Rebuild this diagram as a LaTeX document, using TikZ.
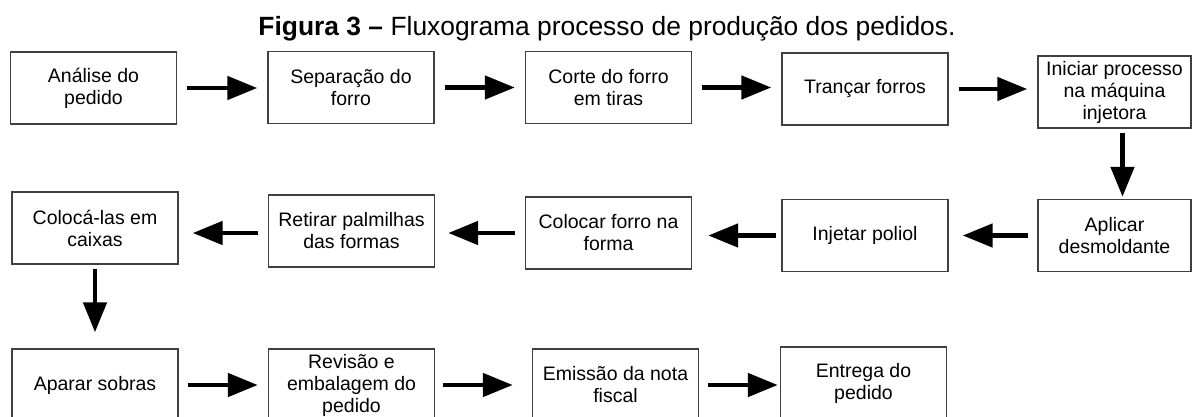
\documentclass[tikz,border=0pt]{standalone}
\usepackage{fontspec}
\setmainfont{Liberation Sans}
\usetikzlibrary{positioning, arrows.meta}

\begin{document}
\begin{tikzpicture}[x=1pt, y=1pt,
  caixa/.style={rectangle, draw=black!75, line width=1.4pt, minimum width=166pt, minimum height=72pt, inner sep=0pt, align=center, font=\fontsize{19.5}{22}\selectfont},
  seta/.style={line width=4.8pt, -{Triangle[length=30pt, width=23pt]}, shorten <=10pt, shorten >=10pt},
]
  \clip (0,0) rectangle (1194,416);
  \node[anchor=base, font=\fontsize{26.4}{30}\selectfont] (titulo) at (607,380) {\textbf{Figura 3 –} Fluxograma processo de produção dos pedidos.};

  % linha 1
  \node[caixa] (analise) at (93.5,328) {Análise do\\pedido};
  \node[caixa] (separacao) at (351,328.5) {Separação do\\forro};
  \node[caixa] (corte) at (608.5,328.5) {Corte do forro\\em tiras};
  \node[caixa] (trancar) at (865,327) {Trançar forros};
  \node[caixa, minimum width=153pt] (iniciar) at (1114.5,324) {Iniciar processo\\na máquina\\injetora};

  % linha 2
  \node[caixa, minimum width=153pt] (aplicar) at (1114.5,180.5) {Aplicar\\desmoldante};
  \node[caixa] (injetar) at (865,180.5) {Injetar poliol};
  \node[caixa] (colocar) at (608.5,183) {Colocar forro na\\forma};
  \node[caixa] (retirar) at (351.5,185) {Retirar palmilhas\\das formas};
  \node[caixa] (caixas) at (95,188) {Colocá-las em\\caixas};

  % linha 3
  \node[caixa] (aparar) at (95,31) {Aparar sobras};
  \node[caixa] (revisao) at (351.5,31) {Revisão e\\embalagem do\\pedido};
  \node[caixa] (nota) at (615.5,31) {Emissão da nota\\fiscal};
  \node[caixa] (entrega) at (863.5,33) {Entrega do\\pedido};

  \draw[seta] (analise.east) -- (analise.east -| separacao.west);
  \draw[seta] (separacao.east) -- (separacao.east -| corte.west);
  \draw[seta] (corte.east) -- (corte.east -| trancar.west);
  \draw[seta] (trancar.east) -- (trancar.east -| iniciar.west);
  \draw[seta, shorten <=4pt, shorten >=2pt] ([xshift=8pt]iniciar.south) -- ([xshift=8pt]aplicar.north);
  \draw[seta, shorten <=9pt, shorten >=14pt] (aplicar.west) -- (aplicar.west -| injetar.east);
  \draw[seta, shorten <=5pt, shorten >=16pt] (injetar.west) -- (injetar.west -| colocar.east);
  \draw[seta, shorten <=10pt, shorten >=13pt] (colocar.west) -- (colocar.west -| retirar.east);
  \draw[seta, shorten <=10pt, shorten >=14pt] ([yshift=-2pt]retirar.west) -- ([yshift=-2pt]retirar.west -| caixas.east);
  \draw[seta, shorten <=4pt, shorten >=16pt] (caixas.south) -- (aparar.north);
  \draw[seta, shorten <=9pt] (aparar.east) -- (aparar.east -| revisao.west);
  \draw[seta, shorten <=8pt, shorten >=19pt] (revisao.east) -- (revisao.east -| nota.west);
  \draw[seta, shorten <=9pt, shorten >=2pt] (nota.east) -- (nota.east -| entrega.west);
\end{tikzpicture}
\end{document}
